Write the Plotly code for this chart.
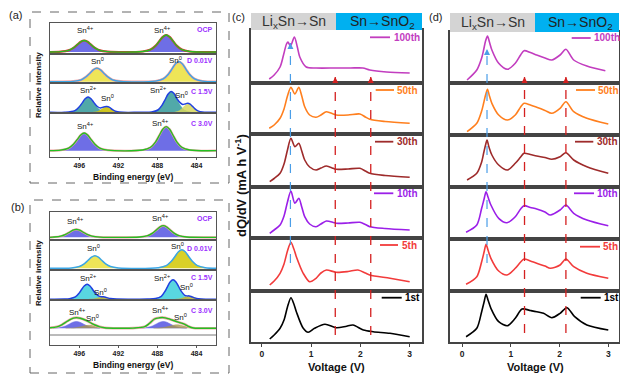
import plotly.graph_objects as go

W, H = 620, 375
FONT = "Liberation Sans"

# ===================== XPS panel (a): binding energy (eV) / intensity (a.u.) =====================
A_OCP_L_E = [497.9, 497.1, 496.6, 496.2, 495.85, 495.5, 495.15, 494.8, 494.4, 493.9, 493.1]
A_OCP_L_I = [0.3, 1.6, 4.1, 7.4, 10.2, 11.5, 10.2, 7.4, 4.1, 1.6, 0.3]
A_OCP_R_E = [489.5, 488.7, 488.2, 487.8, 487.45, 487.1, 486.75, 486.4, 486.0, 485.5, 484.7]
A_OCP_R_I = [0.5, 2.4, 6.1, 10.9, 15.1, 17.0, 15.1, 10.9, 6.1, 2.4, 0.5]

A_D_L_E = [496.6, 495.8, 495.3, 494.9, 494.55, 494.2, 493.85, 493.5, 493.1, 492.6, 491.8]
A_D_L_I = [0.4, 1.9, 4.9, 8.6, 12.0, 13.5, 12.0, 8.6, 4.9, 1.9, 0.4]
A_D_R_E = [488.2, 487.4, 486.9, 486.5, 486.15, 485.8, 485.45, 485.1, 484.7, 484.2, 483.4]
A_D_R_I = [0.6, 2.8, 7.2, 12.8, 17.8, 20.0, 17.8, 12.8, 7.2, 2.8, 0.6]

A_C15_SN2L_E = [497.1, 496.45, 496.05, 495.7, 495.4, 495.1, 494.8, 494.5, 494.15, 493.75, 493.1]
A_C15_SN2L_I = [0.3, 1.8, 5.1, 9.5, 13.6, 15.4, 13.6, 9.5, 5.1, 1.8, 0.3]
A_C15_SN0L_E = [494.6, 494.1, 493.8, 493.6, 493.4, 493.2, 493.0, 492.8, 492.6, 492.3, 491.8]
A_C15_SN0L_I = [0.2, 1.1, 2.8, 4.0, 5.1, 5.5, 5.1, 4.0, 2.8, 1.1, 0.2]
A_C15_SN2R_E = [488.6, 487.95, 487.55, 487.2, 486.9, 486.6, 486.3, 486.0, 485.65, 485.25, 484.6]
A_C15_SN2R_I = [0.4, 2.5, 6.9, 13.0, 18.5, 21.0, 18.5, 13.0, 6.9, 2.5, 0.4]
A_C15_SN0R_E = [486.25, 485.75, 485.45, 485.25, 485.05, 484.85, 484.65, 484.45, 484.25, 483.95, 483.45]
A_C15_SN0R_I = [0.3, 1.7, 4.3, 6.2, 7.8, 8.5, 7.8, 6.2, 4.3, 1.7, 0.3]
A_C15_ENV_E = [499, 497.5, 496.45, 496.05, 495.7, 495.4, 495.1, 494.8, 494.5, 494.15,
               493.85, 493.5, 493.2, 492.9, 492.6, 492.2, 491.5, 490.0, 489.5, 488.6,
               487.95, 487.55, 487.2, 486.9, 486.6, 486.3, 486.0, 485.65, 485.4, 485.15,
               484.9, 484.65, 484.4, 484.15, 483.85, 483.4, 482.5, 482]
A_C15_ENV_I = [0.2, 0.3, 1.9, 5.2, 9.6, 13.7, 15.5, 13.8, 9.9, 6.0,
               4.6, 5.6, 5.9, 5.1, 2.9, 1.0, 0.2, 0.2, 0.2, 0.5,
               2.5, 6.9, 13.0, 18.5, 21.0, 18.9, 13.8, 9.6, 8.0, 8.6,
               9.3, 8.4, 6.1, 3.6, 1.6, 0.4, 0.2, 0.2]

A_C30_L_E = [497.9, 497.1, 496.6, 496.2, 495.85, 495.5, 495.15, 494.8, 494.4, 493.9, 493.1]
A_C30_L_I = [0.5, 2.5, 6.4, 11.3, 15.8, 17.7, 15.8, 11.3, 6.4, 2.5, 0.5]
A_C30_R_E = [489.5, 488.7, 488.2, 487.8, 487.45, 487.1, 486.75, 486.4, 486.0, 485.5, 484.7]
A_C30_R_I = [0.7, 3.4, 8.6, 15.4, 21.4, 24.0, 21.4, 15.4, 8.6, 3.4, 0.7]

# ===================== XPS panel (b) =====================
B_OCP_L_E = [498.7, 497.9, 497.4, 497.0, 496.65, 496.3, 495.95, 495.6, 495.2, 494.7, 493.9]
B_OCP_L_I = [0.2, 1.1, 2.9, 5.1, 7.1, 8.0, 7.1, 5.1, 2.9, 1.1, 0.2]
B_OCP_R_E = [489.8, 489.0, 488.5, 488.1, 487.75, 487.4, 487.05, 486.7, 486.3, 485.8, 485.0]
B_OCP_R_I = [0.3, 1.6, 4.2, 7.4, 10.3, 11.6, 10.3, 7.4, 4.2, 1.6, 0.3]

B_D_L_E = [496.8, 496.0, 495.5, 495.1, 494.75, 494.4, 494.05, 493.7, 493.3, 492.8, 492.0]
B_D_L_I = [0.4, 1.8, 4.5, 8.0, 11.1, 12.5, 11.1, 8.0, 4.5, 1.8, 0.4]
B_D_R_E = [487.9, 487.1, 486.6, 486.2, 485.85, 485.5, 485.15, 484.8, 484.4, 483.9, 483.1]
B_D_R_I = [0.6, 2.6, 6.7, 11.8, 16.5, 18.5, 16.5, 11.8, 6.7, 2.6, 0.6]

B_C15_SN2L_E = [497.0, 496.4, 496.0, 495.75, 495.5, 495.2, 494.9, 494.65, 494.4, 494.0, 493.4]
B_C15_SN2L_I = [0.5, 2.3, 6.3, 9.9, 13.2, 15.0, 13.2, 9.9, 6.3, 2.3, 0.5]
B_C15_SN0L_E = [495.0, 494.5, 494.2, 494.0, 493.8, 493.6, 493.4, 493.2, 493.0, 492.7, 492.2]
B_C15_SN0L_I = [0.1, 0.4, 1.1, 1.6, 2.0, 2.2, 2.0, 1.6, 1.1, 0.4, 0.1]
B_C15_SN2R_E = [488.2, 487.6, 487.2, 486.95, 486.7, 486.4, 486.1, 485.85, 485.6, 485.2, 484.6]
B_C15_SN2R_I = [0.6, 2.9, 8.2, 12.9, 17.2, 19.5, 17.2, 12.9, 8.2, 2.9, 0.6]
B_C15_SN0R_E = [486.15, 485.65, 485.35, 485.15, 484.95, 484.75, 484.55, 484.35, 484.15, 483.85, 483.35]
B_C15_SN0R_I = [0.1, 0.6, 1.5, 2.2, 2.8, 3.0, 2.8, 2.2, 1.5, 0.6, 0.1]
B_C15_ENV_E = [499, 497.5, 497.0, 496.4, 496.0, 495.75, 495.5, 495.2, 494.9, 494.65,
               494.4, 494.0, 493.7, 493.5, 493.2, 492.8, 492.2, 490, 489, 488.2,
               487.6, 487.2, 486.95, 486.7, 486.4, 486.1, 485.85, 485.6, 485.2, 484.95,
               484.75, 484.5, 484.2, 483.8, 483, 482]
B_C15_ENV_I = [0.1, 0.2, 0.6, 2.4, 6.4, 10.0, 13.3, 15.0, 13.3, 10.0,
               6.6, 3.2, 2.6, 2.5, 1.7, 0.7, 0.2, 0.1, 0.2, 0.7,
               3.0, 8.3, 13.0, 17.3, 19.5, 17.3, 13.1, 8.7, 4.0, 3.4,
               3.4, 2.6, 1.4, 0.5, 0.1, 0.1]

B_C30_SN4L_E = [498.7, 497.9, 497.4, 497.0, 496.65, 496.3, 495.95, 495.6, 495.2, 494.7, 493.9]
B_C30_SN4L_I = [0.2, 1.0, 2.4, 4.4, 6.1, 6.8, 6.1, 4.4, 2.4, 1.0, 0.2]
B_C30_SN0L_E = [497.4, 496.6, 496.1, 495.7, 495.35, 495.0, 494.65, 494.3, 493.9, 493.4, 492.6]
B_C30_SN0L_I = [0.1, 0.4, 1.1, 1.9, 2.7, 3.0, 2.7, 1.9, 1.1, 0.4, 0.1]
B_C30_SN4R_E = [489.8, 489.0, 488.5, 488.1, 487.75, 487.4, 487.05, 486.7, 486.3, 485.8, 485.0]
B_C30_SN4R_I = [0.2, 1.0, 2.4, 4.4, 6.1, 6.8, 6.1, 4.4, 2.4, 1.0, 0.2]
B_C30_SN0R_E = [488.4, 487.6, 487.1, 486.7, 486.35, 486.0, 485.65, 485.3, 484.9, 484.4, 483.6]
B_C30_SN0R_I = [0.1, 0.5, 1.3, 2.2, 3.1, 3.5, 3.1, 2.2, 1.3, 0.5, 0.1]
B_C30_ENV_E = [499, 498.3, 497.8, 497.4, 497.0, 496.6, 496.3, 495.9, 495.4, 494.9,
               494.4, 493.9, 493.4, 492.5, 490.5, 489.3, 488.8, 488.3, 487.8, 487.4,
               486.9, 486.5, 485.8, 485.2, 484.8, 484.3, 483.5, 482]
B_C30_ENV_I = [0.5, 1.5, 3.5, 6.0, 8.5, 10.2, 10.7, 10.0, 8.3, 5.8,
               3.3, 1.5, 0.5, 0.1, 0.2, 1.6, 5.0, 9.3, 10.5, 10.7,
               9.6, 8.3, 6.0, 4.0, 1.8, 0.3, 0.1, 0.1]

XPS_TICKS = [496, 492, 488, 484]
ROW_LABELS = ["OCP", "D 0.01V", "C 1.5V", "C 3.0V"]

# ===================== dQ/dV panel (c): voltage (V) / dQ/dV (a.u.) =====================
C_V_100 = [0.15, 0.25, 0.37, 0.44, 0.50, 0.53, 0.58, 0.66, 0.72, 0.77, 0.90, 1.10, 1.50, 1.80, 2.05, 2.19, 2.53, 3.0]
C_I_100 = [4, 8, 16, 28, 39, 41, 37, 46, 36, 26, 16, 15, 15, 15, 15, 13, 11, 10]
C_V_50 = [0.15, 0.25, 0.37, 0.45, 0.52, 0.59, 0.67, 0.75, 0.81, 0.87, 0.97, 1.10, 1.20, 1.31, 1.45, 1.51, 1.75, 1.99, 2.10, 2.19, 2.5, 3.0]
C_I_50 = [5.7, 9, 15.7, 25, 38, 46.7, 40, 46.7, 38, 27.3, 19, 16.7, 19, 22.3, 20, 19, 19, 20, 17, 14.7, 12.5, 10.7]
C_V_30 = [0.16, 0.25, 0.37, 0.45, 0.52, 0.59, 0.67, 0.75, 0.81, 0.87, 0.97, 1.10, 1.20, 1.31, 1.45, 1.51, 1.75, 1.99, 2.10, 2.19, 2.5, 3.0]
C_I_30 = [5.3, 8.5, 13.7, 23, 37, 48.7, 40.3, 43.7, 36, 27, 20, 17, 19, 21, 18.7, 17.7, 18, 18.7, 16, 13.7, 11.5, 9.7]
C_V_10 = [0.16, 0.25, 0.37, 0.45, 0.52, 0.59, 0.67, 0.75, 0.81, 0.87, 0.97, 1.10, 1.20, 1.31, 1.45, 1.51, 1.75, 1.99, 2.10, 2.19, 2.5, 3.0]
C_I_10 = [4.7, 8, 13, 22, 36, 47, 34.7, 39.7, 31, 21.3, 14, 11.3, 14, 17, 15.5, 14.7, 15, 15.7, 13.5, 11.3, 9.5, 8]
C_V_5 = [0.16, 0.25, 0.37, 0.45, 0.52, 0.59, 0.65, 0.70, 0.84, 0.97, 1.10, 1.20, 1.31, 1.51, 1.75, 1.95, 2.10, 2.19, 2.6, 3.0]
C_I_5 = [6, 10, 17.7, 27, 40, 48.7, 42, 34.3, 17.7, 9.3, 12.7, 18, 21, 18.7, 19.5, 21, 18, 16, 12.7, 9.3]
C_V_1 = [0.16, 0.25, 0.37, 0.45, 0.52, 0.59, 0.65, 0.70, 0.84, 0.94, 1.07, 1.28, 1.51, 1.70, 1.85, 2.06, 2.26, 2.6, 3.0]
C_I_1 = [3, 7, 13.7, 22, 35, 44.3, 38, 30.3, 13.7, 9.7, 13.7, 17.7, 14.3, 15.5, 17, 12, 10.3, 8.7, 5.3]

# ===================== dQ/dV panel (d) =====================
D_V_100 = [0.10, 0.30, 0.40, 0.44, 0.48, 0.52, 0.56, 0.61, 0.75, 0.93, 1.09, 1.20, 1.27, 1.40, 1.53, 1.70, 1.84, 2.01, 2.13, 2.29, 2.56, 2.94]
D_I_100 = [3, 13, 25, 33, 42, 47, 41, 33, 19.7, 13.7, 19.7, 28, 32.3, 30.5, 28, 25, 23, 28, 33.7, 23, 17, 12.3]
D_V_50 = [0.10, 0.30, 0.40, 0.44, 0.48, 0.52, 0.56, 0.61, 0.75, 0.93, 1.09, 1.20, 1.27, 1.40, 1.53, 1.70, 1.84, 2.01, 2.13, 2.29, 2.56, 3.0]
D_I_50 = [3.3, 11.7, 24, 31.7, 40, 45.7, 39, 31.7, 20, 15, 20, 28, 31.7, 30, 27.7, 24.5, 21.7, 26.7, 33.3, 23.3, 16.7, 11]
D_V_30 = [0.10, 0.30, 0.40, 0.44, 0.48, 0.51, 0.55, 0.61, 0.75, 0.93, 1.09, 1.20, 1.27, 1.40, 1.53, 1.70, 1.84, 2.01, 2.13, 2.29, 2.56, 3.0]
D_I_30 = [7, 13.7, 25, 33.7, 42, 47, 40, 32, 22, 17, 23.7, 30, 33.7, 32.5, 31, 29.5, 27.7, 30.3, 34.3, 27, 20.3, 13.7]
D_V_10 = [0.08, 0.30, 0.40, 0.45, 0.49, 0.53, 0.59, 0.75, 0.92, 1.09, 1.20, 1.27, 1.40, 1.53, 1.70, 1.81, 2.01, 2.13, 2.29, 2.56, 3.0]
D_I_10 = [6.7, 14, 30.7, 40, 47.3, 42, 34, 20.7, 16.3, 22.3, 30, 33.3, 31.5, 30, 27, 24, 29, 34, 25.7, 19, 13.3]
D_V_5 = [0.08, 0.30, 0.40, 0.45, 0.49, 0.53, 0.59, 0.75, 0.92, 1.09, 1.20, 1.27, 1.40, 1.53, 1.70, 1.81, 2.01, 2.13, 2.29, 2.56, 3.0]
D_I_5 = [6.7, 14.3, 29.3, 39, 46.7, 41, 32.7, 20, 16, 22.7, 29, 32, 30, 27.7, 25, 22.7, 26, 32, 24.3, 17.7, 12.7]
D_V_1 = [0.08, 0.30, 0.40, 0.45, 0.49, 0.53, 0.59, 0.75, 0.93, 1.09, 1.23, 1.40, 1.53, 1.67, 1.84, 2.01, 2.15, 2.31, 2.56, 3.0]
D_I_1 = [5.3, 13.7, 30.3, 40, 47.7, 42, 33.7, 20.3, 16.3, 23.7, 33, 31.5, 30.3, 28.7, 24.3, 28.7, 34.3, 25.3, 17, 12]

CYCLES = ["100th", "50th", "30th", "10th", "5th", "1st"]
CYCLE_COLORS = ["#c23dbf", "#ff7f1e", "#9e2b2b", "#9b1fe8", "#f23b3b", "#000000"]
V_TICKS = [0, 1, 2, 3]
C_BLUE_V, C_RED_V = 0.58, [1.49, 2.21]
D_BLUE_V, D_RED_V = 0.51, [1.28, 2.13]

# ===================== colours =====================
SN4_FILL = "rgba(98,98,228,0.92)"
SN0_FILL = "rgba(236,226,70,0.9)"
SN2_FILL_A = "rgba(72,164,164,0.95)"
SN2_FILL_B = "rgba(80,212,222,0.95)"
SN0_FILL_B4 = "rgba(168,150,72,0.75)"
ENV_GREEN = "#22c022"
ENV_LBLUE = "#3aa6e6"
ENV_BLUE = "#2040e0"
LABEL_PURPLE = "#9b30ff"

fig = go.Figure()
layout = {}
shapes = []
annotations = []


def axname(k, c):
    return c if k == 1 else f"{c}{k}"


def add_axes(k, xpx, ypx, xr, yr, bottom, lc, lw, tickvals=None, tickfs=8, ticklen=3):
    layout[axname(k, "xaxis")] = dict(
        domain=[xpx[0] / W, xpx[1] / W], range=xr, anchor=axname(k, "y"),
        showline=True, mirror=True, linecolor=lc, linewidth=lw, showgrid=False,
        zeroline=False, ticks="outside" if bottom else "", ticklen=ticklen, tickwidth=1,
        tickcolor=lc, showticklabels=bottom, tickvals=tickvals,
        tickfont=dict(family=FONT, size=tickfs, color="#222", weight="bold"))
    layout[axname(k, "yaxis")] = dict(
        domain=[1 - ypx[1] / H, 1 - ypx[0] / H], range=yr, anchor=axname(k, "x"),
        showline=True, mirror=True, linecolor=lc, linewidth=lw, showgrid=False,
        zeroline=False, showticklabels=False, ticks="")


def trace(k, x, y, **kw):
    fig.add_trace(go.Scatter(x=x, y=y, xaxis=axname(k, "x"), yaxis=axname(k, "y"),
                             hoverinfo="skip", showlegend=False, **kw))


def fillpk(k, x, y, color):
    trace(k, x, y, mode="lines", fill="tozeroy", fillcolor=color,
          line=dict(color=color, width=0.6, shape="spline", smoothing=1.0))


def envline(k, x, y, color, w=1.5):
    trace(k, x, y, mode="lines", line=dict(color=color, width=w, shape="spline", smoothing=0.9))


def txt(px, py, text, size, color="#111", xanchor="center", angle=0, yanchor="middle"):
    annotations.append(dict(x=px / W, y=1 - py / H, xref="paper", yref="paper", text=text,
                            showarrow=False, xanchor=xanchor, yanchor=yanchor, textangle=angle,
                            font=dict(family=FONT, size=size, color=color)))


def pline(x0, y0, x1, y1, color, width=1, dash="solid"):
    shapes.append(dict(type="line", xref="paper", yref="paper", x0=x0 / W, x1=x1 / W,
                       y0=1 - y0 / H, y1=1 - y1 / H, line=dict(color=color, width=width, dash=dash)))


# ---------------- XPS axes ----------------
XPS_X = (50, 216)
XPS_XR = [499, 482]
A_ROWS = [(23, 54), (54, 83), (83, 113), (113, 157)]
A_BASE = [52, 81.7, 112.5, 150.7]
B_ROWS = [(212, 240), (240, 270), (270, 300), (300, 345)]
B_BASE = [237.3, 268.3, 299.3, 328.3]

k = 0
a_k, b_k = [], []
for rows, base, store in ((A_ROWS, A_BASE, a_k), (B_ROWS, B_BASE, b_k)):
    for i, (t, b) in enumerate(rows):
        k += 1
        store.append(k)
        add_axes(k, XPS_X, (t, b), XPS_XR, [-(b - base[i]), base[i] - t], i == 3,
                 "#555", 1.1, XPS_TICKS, 7, 2)

# panel (a) traces
fillpk(a_k[0], A_OCP_L_E, A_OCP_L_I, SN4_FILL)
fillpk(a_k[0], A_OCP_R_E, A_OCP_R_I, SN4_FILL)
envline(a_k[0], [499] + A_OCP_L_E + A_OCP_R_E + [482], [0] + A_OCP_L_I + A_OCP_R_I + [0], "#e03030", 2.2)
envline(a_k[0], [499] + A_OCP_L_E + A_OCP_R_E + [482], [0] + A_OCP_L_I + A_OCP_R_I + [0], ENV_GREEN, 1.3)

fillpk(a_k[1], A_D_L_E, A_D_L_I, SN0_FILL)
fillpk(a_k[1], A_D_R_E, A_D_R_I, SN0_FILL)
envline(a_k[1], [499] + A_D_L_E + A_D_R_E + [482], [0] + A_D_L_I + A_D_R_I + [0], "#f0a0a0", 2.4)
envline(a_k[1], [499] + A_D_L_E + A_D_R_E + [482], [0] + A_D_L_I + A_D_R_I + [0], ENV_LBLUE, 1.3)

fillpk(a_k[2], A_C15_SN2L_E, A_C15_SN2L_I, SN2_FILL_A)
fillpk(a_k[2], A_C15_SN0L_E, A_C15_SN0L_I, "rgba(205,195,20,0.95)")
fillpk(a_k[2], A_C15_SN2R_E, A_C15_SN2R_I, SN2_FILL_A)
fillpk(a_k[2], A_C15_SN0R_E, A_C15_SN0R_I, "rgba(215,215,90,0.85)")
envline(a_k[2], A_C15_ENV_E, A_C15_ENV_I, ENV_BLUE, 1.5)

fillpk(a_k[3], A_C30_L_E, A_C30_L_I, SN4_FILL)
fillpk(a_k[3], A_C30_R_E, A_C30_R_I, SN4_FILL)
envline(a_k[3], [499] + A_C30_L_E + A_C30_R_E + [482], [0] + A_C30_L_I + A_C30_R_I + [0], "#f0a0a0", 2.2)
envline(a_k[3], [499] + A_C30_L_E + A_C30_R_E + [482], [0] + A_C30_L_I + A_C30_R_I + [0], ENV_GREEN, 1.3)

# panel (b) traces
fillpk(b_k[0], B_OCP_L_E, B_OCP_L_I, SN4_FILL)
fillpk(b_k[0], B_OCP_R_E, B_OCP_R_I, SN4_FILL)
envline(b_k[0], [499] + B_OCP_L_E + B_OCP_R_E + [482], [0] + B_OCP_L_I + B_OCP_R_I + [0], "#f0a0a0", 2.2)
envline(b_k[0], [499] + B_OCP_L_E + B_OCP_R_E + [482], [0] + B_OCP_L_I + B_OCP_R_I + [0], ENV_GREEN, 1.3)

fillpk(b_k[1], B_D_L_E, B_D_L_I, SN0_FILL)
fillpk(b_k[1], B_D_R_E, B_D_R_I, "rgba(215,205,30,0.95)")
envline(b_k[1], [499] + B_D_L_E + B_D_R_E + [482], [0] + B_D_L_I + B_D_R_I + [0], ENV_LBLUE, 1.5)

fillpk(b_k[2], B_C15_SN2L_E, B_C15_SN2L_I, SN2_FILL_B)
fillpk(b_k[2], B_C15_SN0L_E, B_C15_SN0L_I, "rgba(190,180,60,0.9)")
fillpk(b_k[2], B_C15_SN2R_E, B_C15_SN2R_I, SN2_FILL_B)
fillpk(b_k[2], B_C15_SN0R_E, B_C15_SN0R_I, "rgba(190,180,60,0.9)")
envline(b_k[2], B_C15_ENV_E, B_C15_ENV_I, ENV_BLUE, 1.5)

fillpk(b_k[3], B_C30_SN4L_E, B_C30_SN4L_I, SN4_FILL)
fillpk(b_k[3], B_C30_SN0L_E, B_C30_SN0L_I, SN0_FILL_B4)
fillpk(b_k[3], B_C30_SN4R_E, B_C30_SN4R_I, SN4_FILL)
fillpk(b_k[3], B_C30_SN0R_E, B_C30_SN0R_I, SN0_FILL_B4)
envline(b_k[3], B_C30_ENV_E, B_C30_ENV_I, "#f0a8a8", 2.6)
envline(b_k[3], B_C30_ENV_E, B_C30_ENV_I, ENV_GREEN, 1.4)
pline(50, 335, 216, 335, "#777", 1)

# XPS text
S4, S2, S0 = "Sn<sup>4+</sup>", "Sn<sup>2+</sup>", "Sn<sup>0</sup>"
A_LAB = [(85, 30, S4), (162, 30, S4), (97, 61, S0), (175, 59.5, S0),
         (88, 89.5, S2), (107, 97.5, S0), (158, 89.5, S2), (182, 94.5, S0),
         (85, 126.5, S4), (160, 122.5, S4)]
B_LAB = [(75, 221, S4), (160, 218, S4), (93, 248, S0), (177, 246, S0),
         (88, 278, S2), (100, 292, S0), (162, 278, S2), (186, 287, S0),
         (77, 312, S4), (92, 318, S0), (160, 310, S4), (180, 317, S0)]
for px, py, t in A_LAB + B_LAB:
    txt(px, py, t, 8)
for py, lab in zip([30, 60.5, 92, 123.3], ROW_LABELS):
    txt(215, py, f"<b>{lab}</b>", 7, LABEL_PURPLE, xanchor="right")
for py, lab in zip([218, 248, 277, 310], ROW_LABELS):
    txt(215, py, f"<b>{lab}</b>", 7, LABEL_PURPLE, xanchor="right")
txt(133, 177, "<b>Binding energy (eV)</b>", 8.5, "#111")
txt(133, 365, "<b>Binding energy (eV)</b>", 8.5, "#111")
txt(38, 85, "<b>Relative intensity</b>", 8, "#111", angle=-90)
txt(38, 273, "<b>Relative intensity</b>", 8, "#111", angle=-90)
txt(15, 15, "(a)", 11, "#222")
txt(17, 207, "(b)", 11, "#222")
for (y0, y1) in ((12, 183), (200, 373)):
    shapes.append(dict(type="rect", xref="paper", yref="paper", x0=30 / W, x1=229 / W,
                       y0=1 - y1 / H, y1=1 - y0 / H,
                       line=dict(color="#666", width=1, dash="dash")))

# ---------------- dQ/dV axes ----------------
C_X, C_XR = (251, 422), [-0.22, 3.25]
C_ROWS = [(30, 83), (83, 134), (134, 187), (187, 238), (238, 291), (291, 342)]
D_X, D_XR = (450, 619), [-0.25, 3.22]
D_ROWS = [(32, 83), (83, 135), (135, 187), (187, 239), (239, 291), (291, 342)]
C_DATA = [(C_V_100, C_I_100), (C_V_50, C_I_50), (C_V_30, C_I_30), (C_V_10, C_I_10), (C_V_5, C_I_5), (C_V_1, C_I_1)]
D_DATA = [(D_V_100, D_I_100), (D_V_50, D_I_50), (D_V_30, D_I_30), (D_V_10, D_I_10), (D_V_5, D_I_5), (D_V_1, D_I_1)]

c_k, d_k = [], []
for X, XR, rows, data, store in ((C_X, C_XR, C_ROWS, C_DATA, c_k), (D_X, D_XR, D_ROWS, D_DATA, d_k)):
    for i, (t, b) in enumerate(rows):
        k += 1
        store.append(k)
        add_axes(k, X, (t, b), XR, [0, b - t], i == 5, "#444", 1.8, V_TICKS, 8.5)
        trace(k, data[i][0], data[i][1], mode="lines",
              line=dict(color=CYCLE_COLORS[i], width=1.6, shape="spline", smoothing=0.8))

# legends (line + label) in each row
C_LEG = [(370, 390, 392, 37.3), (375.7, 394, 395, 90), (375, 393.3, 395, 141.7),
         (374, 393.3, 395, 193.3), (380, 398, 400, 245), (381.7, 401.7, 403, 297.7)]
D_LEG = [(571.7, 590.7, 592, 38), (576, 595, 596, 90), (575, 593.3, 594.5, 141.7),
         (574, 594, 595, 193.3), (580, 600, 601, 246.7), (580.7, 600.7, 602, 297.7)]
for leg in (C_LEG, D_LEG):
    for i, (l0, l1, tx, ty) in enumerate(leg):
        pline(l0, ty, l1, ty, CYCLE_COLORS[i], 1.8)
        txt(tx, ty, f"<b>{CYCLES[i]}</b>", 10, CYCLE_COLORS[i], xanchor="left")


# dashed guide lines and arrowheads
def vguide(xref, v, ytop, ybot, color, w):
    shapes.append(dict(type="line", xref=xref, yref="paper", x0=v, x1=v,
                       y0=1 - ybot / H, y1=1 - ytop / H,
                       line=dict(color=color, width=w, dash="dash")))
    annotations.append(dict(x=v, y=1 - ytop / H, xref=xref, yref="paper", text="",
                            showarrow=True, ax=0, ay=6, arrowhead=2, arrowsize=1,
                            arrowwidth=1.2, arrowcolor=color, standoff=0))


xc = axname(c_k[-1], "x")
xd = axname(d_k[-1], "x")
vguide(xc, C_BLUE_V, 43, 263, "#4a9ee8", 1.2)
for v in C_RED_V:
    vguide(xc, v, 77, 335, "#d42020", 1.3)
vguide(xd, D_BLUE_V, 49, 263, "#4a9ee8", 1.2)
for v in D_RED_V:
    vguide(xd, v, 77, 333, "#d42020", 1.3)

# header bars
for (g0, g1, b1, t0, t1) in ((251, 336, 422, 13, 30), (450, 535, 619, 13, 32)):
    shapes.append(dict(type="rect", xref="paper", yref="paper", x0=g0 / W, x1=g1 / W,
                       y0=1 - t1 / H, y1=1 - t0 / H, fillcolor="#d4d4d4", line=dict(width=0)))
    shapes.append(dict(type="rect", xref="paper", yref="paper", x0=g1 / W, x1=b1 / W,
                       y0=1 - t1 / H, y1=1 - t0 / H, fillcolor="#00b0f0", line=dict(width=0)))
txt(293.5, 21.5, "Li<sub>x</sub>Sn→Sn", 14, "#333")
txt(382, 21.5, "Sn→SnO<sub>2</sub>", 14, "#222")
txt(493, 22.5, "Li<sub>x</sub>Sn→Sn", 14, "#333")
txt(580, 22.5, "Sn→SnO<sub>2</sub>", 14, "#222")

txt(336, 367, "<b>Voltage (V)</b>", 11, "#111")
txt(535, 367, "<b>Voltage (V)</b>", 11, "#111")
txt(241, 186, "<b>dQ/dV (mA h V<sup>-1</sup>)</b>", 13, "#111", angle=-90)
txt(238, 17, "(c)", 11, "#222")
txt(435, 17, "(d)", 11, "#222")

layout.update(dict(width=W, height=H, margin=dict(l=0, r=0, t=0, b=0),
                   paper_bgcolor="white", plot_bgcolor="white", showlegend=False,
                   shapes=shapes, annotations=annotations))
fig.update_layout(**layout)
fig.write_html("out.html")
